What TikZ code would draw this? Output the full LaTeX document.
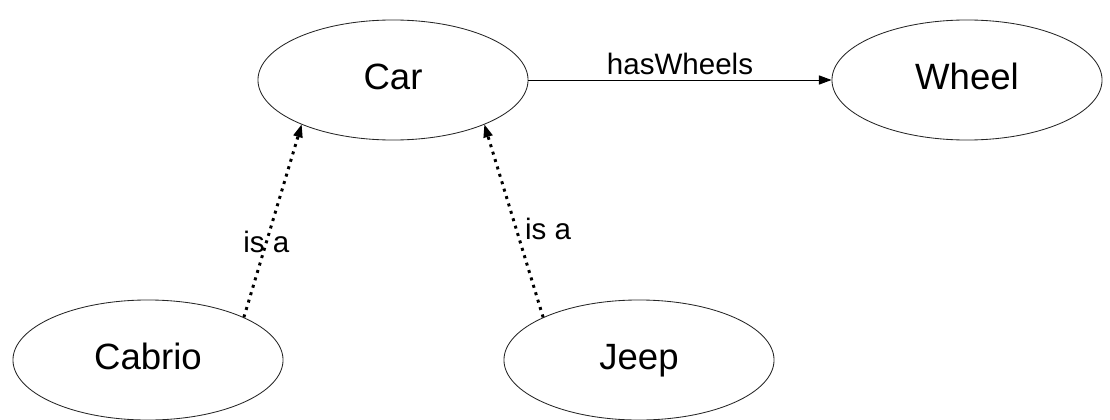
\documentclass[tikz,border=0pt]{standalone}
\usepackage{fontspec}
\setmainfont{Liberation Sans}
\usetikzlibrary{shapes.geometric,arrows.meta}

\tikzset{
  concept/.style={ellipse,draw=black!85,line width=0.6pt,minimum width=6.75cm,
    minimum height=3cm,inner sep=0pt,text height=18pt,text depth=4pt,
    font=\fontsize{26}{30}\selectfont},
  isa/.style={line width=2.1pt,dash pattern=on 2.1pt off 3.4pt,
    -{Triangle[length=9pt,width=7pt,line width=0pt]}},
  rel/.style={line width=0.7pt,-{Triangle[length=9pt,width=6.5pt]}},
  lbl/.style={font=\fontsize{21}{25}\selectfont}
}

\begin{document}
\begin{tikzpicture}[x=0.025cm,y=-0.025cm]
  \useasboundingbox (0,0) rectangle (1110,420);
  % classes
  \node[concept] (car)    at (393,80)  {Car};
  \node[concept] (wheel)  at (967,80)  {Wheel};
  \node[concept] (cabrio) at (148,360) {Cabrio};
  \node[concept] (jeep)   at (639,360) {Jeep};
  % property
  \draw[rel] (car.east) -- node[lbl,above,yshift=0pt] {hasWheels} (wheel.west);
  % subclass links
  \draw[isa] (cabrio.24) -- node[lbl,pos=0.39] {is a} (car.206);
  \draw[isa] (jeep.156) -- node[lbl,right,pos=0.46,xshift=2pt] {is a} (car.334);
\end{tikzpicture}
\end{document}
